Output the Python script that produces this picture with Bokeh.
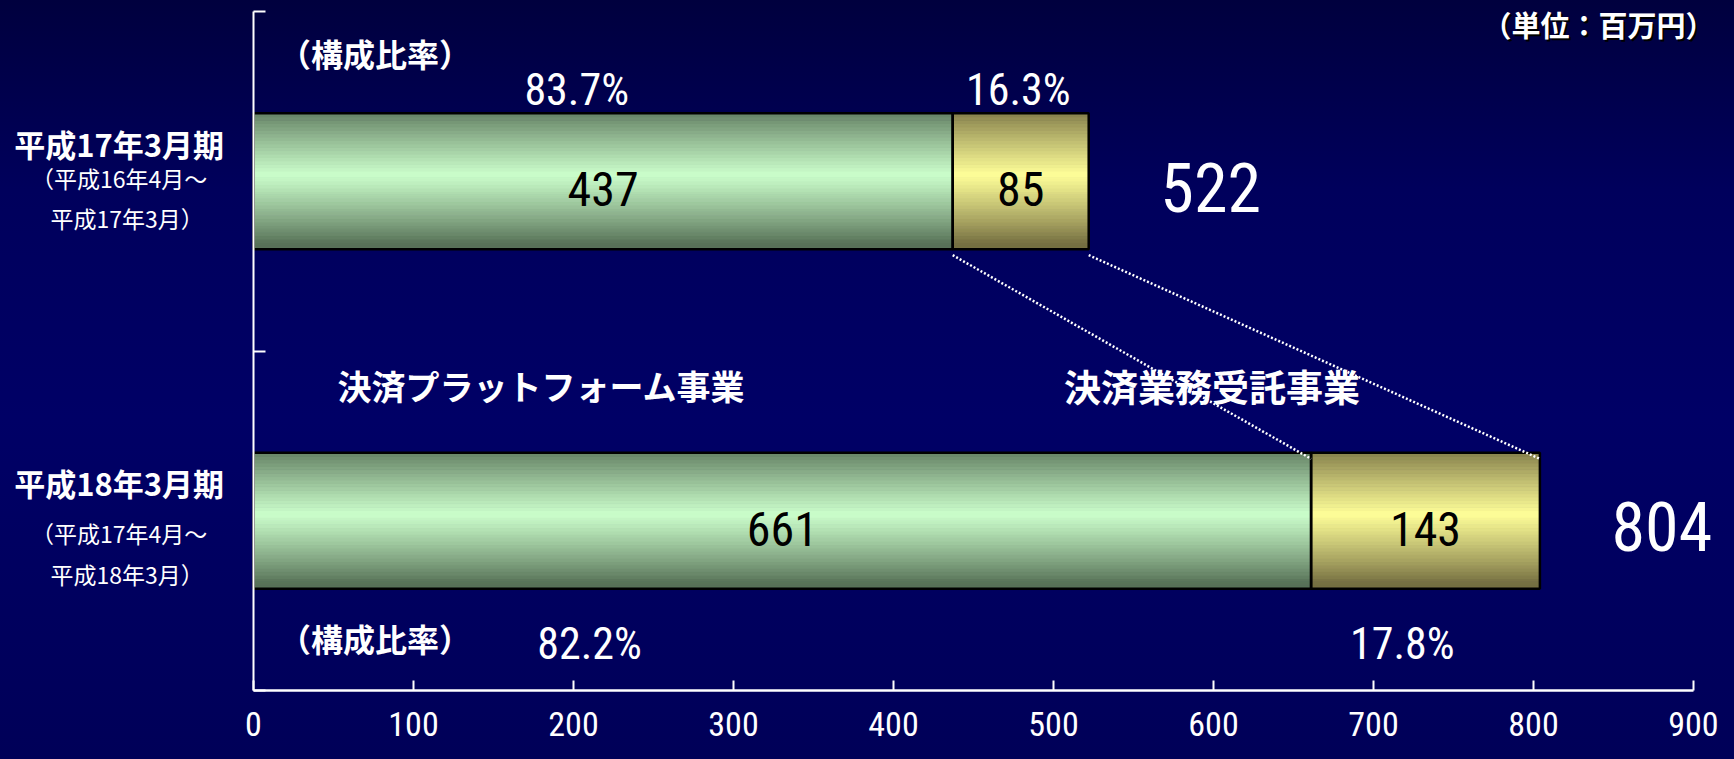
from bokeh.plotting import figure
from bokeh.models import Range1d, FixedTicker, Label, LabelSet, ColumnDataSource
from bokeh.core.properties import value
from bokeh.embed import file_html
from bokeh.resources import INLINE

# ---------------- data ----------------
periods = ["平成17年3月期", "平成18年3月期"]
period_from = ["（平成16年4月～", "（平成17年4月～"]
period_to = ["平成17年3月）", "平成18年3月）"]
series_names = ["決済プラットフォーム事業", "決済業務受託事業"]
platform = [437, 661]       # 決済プラットフォーム事業
outsourcing = [85, 143]     # 決済業務受託事業
totals = [522, 804]
platform_pct = ["83.7%", "82.2%"]
outsourcing_pct = ["16.3%", "17.8%"]
x_ticks = [0, 100, 200, 300, 400, 500, 600, 700, 800, 900]
ratio_label = "（構成比率）"
unit_label = "（単位：百万円）"

# ---------------- style / layout constants ----------------
NUM_FONT = "Roboto Condensed, DejaVu Sans Condensed, Liberation Sans, sans-serif"
JP_FONT = "Noto Sans CJK JP"
G_DARK, G_LIGHT = (88, 114, 88), (204, 255, 204)
Y_DARK, Y_LIGHT = (118, 112, 66), (255, 255, 153)
BAR_H = 0.4
W, H = 1718, 743
X0_PX, X_SCALE = 253, 1.6        # pixel of x=0, pixels per unit
Y0_PX, Y_SCALE = 690, 339.5      # pixel of y=0, pixels per unit
PX = 1.0 / Y_SCALE               # one screen pixel in y data units

n = len(periods)
ypos = [n - 0.5 - i for i in range(n)]   # top row first

p = figure(width=W, height=H,
           x_range=Range1d(-X0_PX / X_SCALE, (W - X0_PX) / X_SCALE),
           y_range=Range1d(-(H - Y0_PX) / Y_SCALE, Y0_PX / Y_SCALE),
           output_backend="svg", toolbar_location=None,
           min_border_left=0, min_border_right=0, min_border_top=0, min_border_bottom=0)
p.background_fill_color = None
p.border_fill_color = None
p.outline_line_color = None
p.grid.visible = False

# x axis
p.xaxis.fixed_location = 0
p.xaxis.bounds = (0, 900)
p.xaxis.ticker = FixedTicker(ticks=x_ticks)
p.xaxis.axis_line_color = "white"
p.xaxis.axis_line_width = 2.5
p.xaxis.major_tick_line_color = "white"
p.xaxis.major_tick_line_width = 2
p.xaxis.major_tick_in = 10
p.xaxis.major_tick_out = 0
p.xaxis.minor_tick_line_color = None
p.xaxis.major_label_text_color = "white"
p.xaxis.major_label_text_font = NUM_FONT
p.xaxis.major_label_text_font_size = "34px"
p.xaxis.major_label_standoff = 21

# y axis (boundaries between periods)
p.yaxis.fixed_location = 0
p.yaxis.bounds = (0, 2)
p.yaxis.ticker = FixedTicker(ticks=[0, 1, 2])
p.yaxis.major_label_overrides = {0: "", 1: "", 2: ""}
p.yaxis.axis_line_color = "white"
p.yaxis.axis_line_width = 2
p.yaxis.major_tick_line_color = "white"
p.yaxis.major_tick_line_width = 2
p.yaxis.major_tick_in = 12
p.yaxis.major_tick_out = 0
p.yaxis.minor_tick_line_color = None


def blend(dark, light, w):
    return "#%02x%02x%02x" % tuple(int(round(d + (l - d) * w)) for d, l in zip(dark, light))


# gradient-shaded bars built from thin strips
N = 40
strips = dict(left=[], right=[], y=[], color=[])
for i in range(n):
    segs = [(0, platform[i], G_DARK, G_LIGHT),
            (platform[i], platform[i] + outsourcing[i], Y_DARK, Y_LIGHT)]
    for left, right, dark, light in segs:
        for k in range(N):
            t = (k + 0.5) / N
            d = abs(2 * t - 1.1)
            w = (1 - d) ** 0.9 if d < 1 else 0
            strips["left"].append(left)
            strips["right"].append(right)
            strips["y"].append(ypos[i] - BAR_H / 2 + t * BAR_H)
            strips["color"].append(blend(dark, light, w))
p.hbar(y="y", left="left", right="right", height=BAR_H / N, fill_color="color",
       line_color="color", line_width=1, source=ColumnDataSource(strips))

# outlines
seg_src = ColumnDataSource(dict(y=ypos, p=platform, t=[a + b for a, b in zip(platform, outsourcing)]))
p.hbar(y="y", left=0, right="p", height=BAR_H, fill_color=None, line_color="black",
       line_width=2.5, source=seg_src)
p.hbar(y="y", left="p", right="t", height=BAR_H, fill_color=None, line_color="black",
       line_width=2.5, source=seg_src)

# dotted connectors between the two periods
p.segment(x0=[platform[0], totals[0]], y0=[ypos[0] - BAR_H / 2 - 6 * PX] * 2,
          x1=[platform[1], totals[1]], y1=[ypos[1] + BAR_H / 2 - 6 * PX] * 2,
          line_color="white", line_width=2.5, line_dash="2 2")

# values inside bars
val_src = ColumnDataSource(dict(
    x=[v / 2 for v in platform] + [a + b / 2 for a, b in zip(platform, outsourcing)],
    y=[y - 8 * PX for y in ypos] * 2,
    text=[str(v) for v in platform] + [str(v) for v in outsourcing]))
p.add_layout(LabelSet(x="x", y="y", text="text", source=val_src, text_align="center",
                      text_baseline="middle", text_color="black",
                      text_font=value(NUM_FONT), text_font_size="48px"))

# totals
tot_src = ColumnDataSource(dict(x=totals, y=[y - 6 * PX for y in ypos], text=[str(v) for v in totals]))
p.add_layout(LabelSet(x="x", y="y", text="text", source=tot_src, x_offset=122,
                      text_align="center", text_baseline="middle", text_color="white",
                      text_font=value(NUM_FONT), text_font_size="68px"))

# composition ratios (layout positions)
pct_x_platform = [202, 210]
pct_x_outsourcing = [478, 718]
pct_y = [ypos[0] + 0.27, ypos[1] - 0.363]
ratio_y = [1.878, 0.155]
for i in range(n):
    for xx, txt in [(pct_x_platform[i], platform_pct[i]), (pct_x_outsourcing[i], outsourcing_pct[i])]:
        p.add_layout(Label(x=xx, y=pct_y[i], text=txt, text_align="center", text_baseline="middle",
                           text_color="white", text_font=NUM_FONT, text_font_size="44px"))
    p.add_layout(Label(x=76, y=ratio_y[i], text=ratio_label, text_align="center",
                       text_baseline="middle", text_color="white", text_font=JP_FONT,
                       text_font_style="bold", text_font_size="32px"))

# series names
name_x = [180, 599]
name_size = ["34px", "37px"]
for xx, txt, fs in zip(name_x, series_names, name_size):
    p.add_layout(Label(x=xx, y=0.898, text=txt, text_align="center", text_baseline="middle",
                       text_color="white", text_font=JP_FONT, text_font_style="bold",
                       text_font_size=fs))

# period labels on the left (pixel offsets from each row centre)
title_off = [38, 38]
from_off = [3, -12]
to_off = [-37, -53]
for i in range(n):
    p.add_layout(Label(x=-84, y=ypos[i] + title_off[i] * PX, text=periods[i], text_align="center",
                       text_baseline="middle", text_color="white", text_font=JP_FONT,
                       text_font_style="bold", text_font_size="31px"))
    p.add_layout(Label(x=-84, y=ypos[i] + from_off[i] * PX, text=period_from[i], text_align="center",
                       text_baseline="middle", text_color="white", text_font=JP_FONT,
                       text_font_size="23px"))
    p.add_layout(Label(x=-79, y=ypos[i] + to_off[i] * PX, text=period_to[i], text_align="center",
                       text_baseline="middle", text_color="white", text_font=JP_FONT,
                       text_font_size="23px"))

# unit label with shadow (right-aligned at the top-right corner)
for dx, dy, col in [(2, -2, "black"), (0, 0, "white")]:
    p.add_layout(Label(x=(W - 4 - X0_PX) / X_SCALE, y=1.962, x_offset=dx, y_offset=dy,
                       text=unit_label, text_align="right", text_baseline="middle",
                       text_color=col, text_font=JP_FONT, text_font_style="bold",
                       text_font_size="29px"))

html = file_html(p, INLINE, title="決済事業 売上構成")
html = html.replace("</head>", "<style>html,body{background:linear-gradient(to bottom,#00003e 0%,#00005c 25%,#000066 55%,#000058 100%);min-height:100%;}</style></head>", 1)
open("out.html", "w").write(html)
